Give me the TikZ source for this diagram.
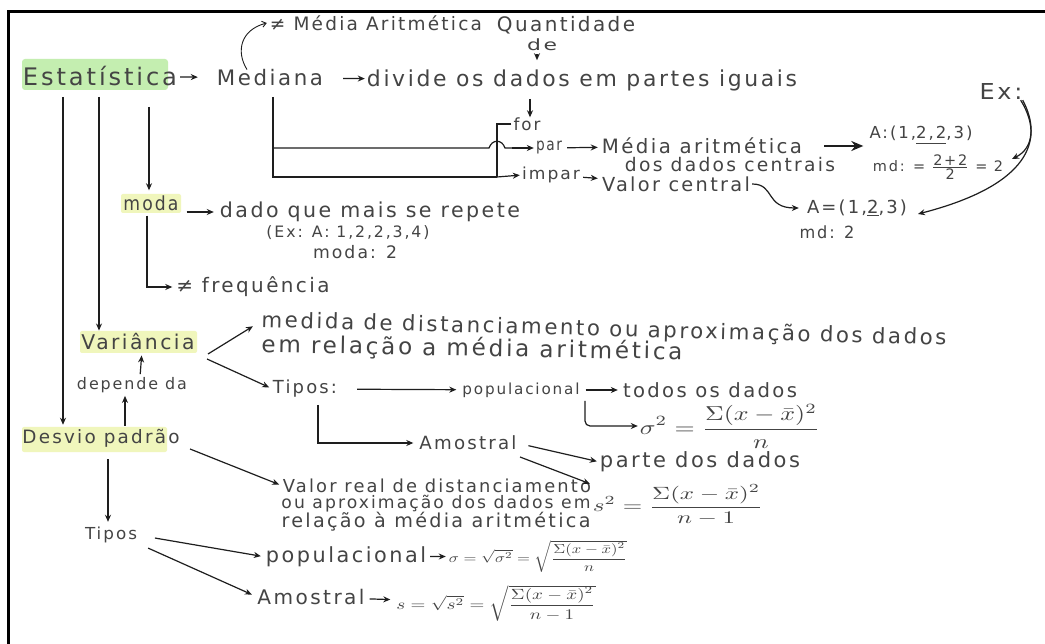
\documentclass[tikz,border=0pt]{standalone}
\usepackage{graphicx}
\usepackage{fontspec}
\setmainfont{DejaVu Sans}
\newfontfamily\hand{DejaVu Sans}[LetterSpace=12]
\usetikzlibrary{arrows.meta}
\definecolor{ink}{RGB}{68,68,68}
\definecolor{pen}{RGB}{30,30,30}
\definecolor{hlgreen}{RGB}{196,238,176}
\definecolor{hlyellow}{RGB}{240,246,188}
\newcommand{\W}[2]{\resizebox{#1pt}{!}{#2}}
\newcommand{\WH}[3]{\resizebox*{#1pt}{#2pt}{#3}}
\begin{document}
\begin{tikzpicture}[x=1pt,y=-1pt,
  txt/.style={inner sep=0pt, text=ink, font=\hand},
  con/.style={draw=pen, line width=1.2pt, -{Stealth[length=7pt,width=6pt]}},
  thincon/.style={draw=pen, line width=0.9pt, -{Straight Barb[length=4pt,width=6pt]}},
  bigcon/.style={draw=pen, line width=2pt, -{Stealth[length=12pt,width=10pt]}},
  plain/.style={draw=pen, line width=1.2pt},
  frame/.style={draw=black, line width=3pt}
]
\useasboundingbox (0,0) rectangle (1045,644);
\fill[white] (0,0) rectangle (1045,644);
% highlights
\fill[hlgreen, rounded corners=3pt] (22,59) rectangle (168,90);
\fill[hlyellow, rounded corners=2pt] (121,194) rectangle (181,213);
\fill[hlyellow, rounded corners=2pt] (80,331) rectangle (197,353);
\fill[hlyellow, rounded corners=2pt] (22,427) rectangle (167,452);
% frame
\draw[frame] (8,644) -- (8,12) -- (1045,12);

% ---------- nodes ----------
\node[txt] (estat) at (100,76) {\W{154}{Estatística}};
\node[txt] (mediana) at (270,78) {\W{106}{Mediana}};
\node[txt] (naoma) at (376,23) {\W{212}{≠ Média Aritmética}};
\node[txt] (quant) at (566,25) {\W{138}{Quantidade}};
\node[txt] (de) at (542,45) {\WH{30}{12}{de}};
\node[txt] (divide) at (582,80) {\W{430}{divide os dados em partes iguais}};
\node[txt] (for) at (527,124) {\WH{27}{13}{for}};
\node[txt] (par) at (549,148) {\WH{26}{13}{par}};
\node[txt] (mediaar) at (702,146) {\W{200}{Média aritmética}};
\node[txt] (dosdados) at (730,165) {\W{210}{dos dados centrais}};
\node[txt] (impar) at (551,175) {\WH{58}{16}{impar}};
\node[txt] (valor) at (676,184) {\W{148}{Valor central}};
\node[txt] (A1) at (921,135) {\W{103}{A:(1,\underline{2,2},3)}};
\node[txt] (md1) at (938,167) {\W{130}{md: = $\frac{\mbox{2+2}}{\mbox{2}}$ = 2}};
\node[txt] (A2) at (857,208) {\W{100}{A=(1,\underline{2},3)}};
\node[txt] (md2) at (827,232) {\WH{55}{13}{md: 2}};
\node[txt] (ex) at (1001,92) {\WH{43}{16}{Ex:}};

\node[txt] (moda) at (151,203) {\WH{55}{15}{moda}};
\node[txt] (dado) at (370,212) {\W{300}{dado que mais se repete}};
\node[txt] (exA) at (348,233) {\W{163}{(Ex: A: 1,2,2,3,4)}};
\node[txt] (moda2) at (355,252) {\W{84}{moda: 2}};
\node[txt] (freq) at (253,287) {\W{153}{≠ frequência}};
\node[txt] (var) at (138,342) {\W{113}{Variância}};
\node[txt, rotate=-1.5] (med1) at (604,330) {\W{685}{medida de distanciamento ou aproximação dos dados}};
\node[txt, rotate=-1] (med2) at (472,349) {\W{421}{em relação a média aritmética}};
\node[txt] (tipos1) at (305,389) {\W{64}{Tipos:}};
\node[txt] (pop1) at (521,390) {\W{117}{populacional}};
\node[txt] (todos) at (710,390) {\W{174}{todos os dados}};
\node[txt] (sig) at (730,426) {\WH{180}{44}{$\displaystyle\sigma^2=\frac{\Sigma(x-\bar{x})^2}{n}$}};
\node[txt] (amos1) at (468,443) {\W{97}{Amostral}};
\node[txt] (parte) at (700,462) {\W{200}{parte dos dados}};
\node[txt] (s2) at (678,505) {\WH{170}{40}{$\displaystyle s^2=\frac{\Sigma(x-\bar{x})^2}{n-1}$}};

\node[txt] (depende) at (132,385) {\W{110}{depende da}};
\node[txt] (desvio) at (101,438) {\W{157}{Desvio padrão}};
\node[txt] (vr1) at (437,486) {\W{308}{Valor real de distanciamento}};
\node[txt] (vr2) at (436,504) {\W{309}{ou aproximação dos dados em}};
\node[txt] (vr3) at (436,522) {\W{309}{relação à média aritmética}};
\node[txt] (tipos2) at (111,535) {\WH{52}{16}{Tipos}};
\node[txt] (pop2) at (346,557) {\W{160}{populacional}};
\node[txt] (sig2) at (538,556) {\WH{178}{32}{$\sigma=\sqrt{\sigma^2}=\sqrt{\displaystyle\frac{\Sigma(x-\bar{x})^2}{n}}$}};
\node[txt] (amos2) at (311,597) {\W{107}{Amostral}};
\node[txt] (s3n) at (496,603) {\WH{199}{36}{$s=\sqrt{s^2}=\sqrt{\displaystyle\frac{\Sigma(x-\bar{x})^2}{n-1}}$}};

% ---------- connectors: top ----------
\draw[con, shorten <=3pt, shorten >=19pt] (estat) -- (mediana);
\draw[thincon] ([xshift=-23pt]mediana.north) .. controls (236,52) and (240,30) .. ([xshift=-3pt]naoma.west);
\draw[con, shorten <=20pt, shorten >=2pt] (mediana) -- (divide);
\draw[con, shorten <=3pt, shorten >=2pt] ([xshift=-5pt]de.south) -- ([xshift=-5pt,yshift=-11pt]de.south);
\coordinate (c1) at (530,99);
\draw[con] (c1) -- (c1 |- for.north);
\draw[plain] ([xshift=-2pt]for.west) -| (497,177);
\coordinate (mb) at (273,97);
\draw[plain] (mb) -- (273,177) -- (497,177);
\draw[con, shorten >=2pt] (497,177) -- (impar.west);
\draw[plain] (273,148) -- (489,148) .. controls (492,139) and (502,139) .. (505,148) -- (512,148);
\draw[con, shorten >=2pt] (512,148) -- (par.west);
\draw[con, shorten <=5pt, shorten >=4pt] (par) -- (mediaar);
\draw[con, shorten <=3pt, shorten >=4pt] (impar) -- (valor);
\draw[bigcon, shorten <=22pt, shorten >=6pt] (mediaar.east) -- (A1.west |- mediaar.east);
\draw[con, shorten <=2pt, shorten >=8pt] (valor.east) .. controls (775,184) and (765,208) .. (A2.west);
\coordinate (e1) at (1012,159);
\coordinate (e2) at (918,214);
\draw[con] ([xshift=-2pt]ex.south east) .. controls (1036,125) and (1034,148) .. (e1);
\draw[con] (ex.south east) .. controls (1044,140) and (1030,185) .. (e2);

% ---------- connectors: middle ----------
\coordinate (s1) at (63,97);
\coordinate (s2c) at (99,97);
\coordinate (s3) at (149,107);
\draw[con, shorten >=4pt] (s1) -- (s1 |- desvio.north);
\draw[con, shorten >=3pt] (s2c) -- (s2c |- var.north);
\draw[con, shorten >=5pt] (s3) -- (s3 |- moda.north);
\draw[con, shorten <=8pt, shorten >=6pt] (moda.east |- dado.west) -- (dado.west);
\draw[con, shorten <=5pt, shorten >=4pt] ([xshift=-4pt]moda.south) |- (freq.west);
\coordinate (v1) at (208,354);
\coordinate (v2) at (207,359);
\draw[con, shorten >=10pt] (v1) -- (med1.west);
\draw[con, shorten >=4pt] (v2) -- (tipos1.west);
\draw[con, shorten <=20pt, shorten >=6pt] (tipos1) -- (pop1);
\draw[con, shorten <=6pt, shorten >=5pt] (pop1) -- (todos);
\coordinate (p1) at (585,401);
\draw[con, rounded corners=5pt, shorten >=2pt] (p1) |- (sig.west);
\draw[con, shorten <=7pt, shorten >=6pt] ([xshift=13pt]tipos1.south) |- (amos1.west);
\draw[con, shorten <=12pt, shorten >=3pt] (amos1.east) -- (parte.west);
\coordinate (a2) at (520,457);
\draw[con, shorten >=3pt] (a2) -- (s2.north west);

% ---------- connectors: bottom ----------
\draw[con, shorten <=3pt, shorten >=5pt] ([xshift=8pt]depende.north) -- ([xshift=4pt]var.south);
\draw[con, shorten <=3pt, shorten >=3pt] ([xshift=24pt]desvio.north) -- ([xshift=-7pt]depende.south);
\coordinate (d1) at (190,449);
\draw[con, shorten >=4pt] (d1) -- (vr1.west);
\draw[con, shorten <=12pt, shorten >=5pt] ([xshift=7pt]desvio.south) -- ([xshift=-3pt]tipos2.north);
\draw[con, shorten <=18pt, shorten >=5pt] (tipos2.east) -- (pop2.west);
\draw[con, shorten <=12pt, shorten >=6pt] (tipos2.south east) -- (amos2.west);
\draw[con, shorten <=4pt, shorten >=3pt] (pop2) -- (sig2);
\draw[con, shorten <=5pt, shorten >=6pt] (amos2) -- (s3n);
\end{tikzpicture}
\end{document}
